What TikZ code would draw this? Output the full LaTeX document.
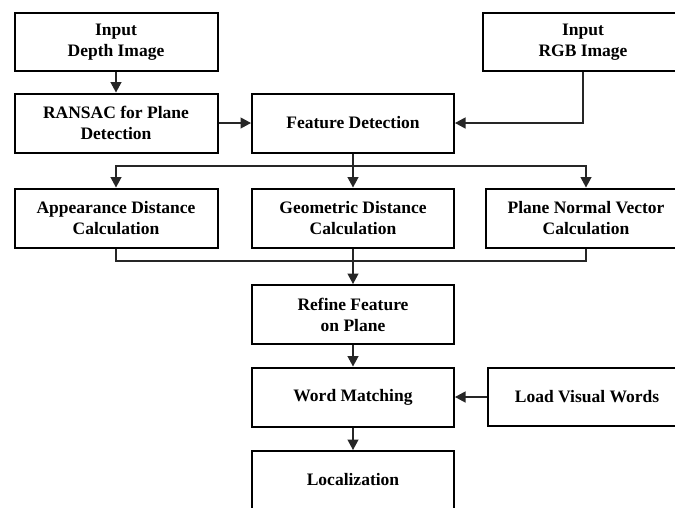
\documentclass[tikz,border=0pt]{standalone}
\usepackage{fontspec}
\setmainfont{Liberation Serif}
\usetikzlibrary{arrows.meta}
\begin{document}
\begin{tikzpicture}[x=1pt,y=-1pt,
  box/.style={draw=black,line width=2pt,fill=white,rectangle,inner sep=0pt,
    align=center,font=\bfseries\fontsize{17.5}{21}\selectfont},
  conn/.style={draw=black!85,line width=1.2pt},
  arr/.style={conn,-{Triangle[length=10.5pt,width=11pt]}}]
\useasboundingbox (0,0) rectangle (675,507);
\clip (0,0) rectangle (675,507);
\fill[white] (0,0) rectangle (675,507);
\node[box,minimum width=203pt,minimum height=58pt] (depth) at (116,42) {Input\\Depth Image};
\node[box,minimum width=200pt,minimum height=58pt] (rgb) at (583,42) {Input\\RGB Image};
\node[box,minimum width=203pt,minimum height=59pt] (ransac) at (116,123) {RANSAC for Plane\\Detection};
\node[box,minimum width=202pt,minimum height=59pt] (feat) at (353,123) {Feature Detection};
\node[box,minimum width=203pt,minimum height=59pt] (app) at (116,218) {Appearance Distance\\Calculation};
\node[box,minimum width=202pt,minimum height=59pt] (geo) at (353,218) {Geometric Distance\\Calculation};
\node[box,minimum width=200pt,minimum height=59pt] (pn) at (586,218) {Plane Normal Vector\\Calculation};
\node[box,minimum width=202pt,minimum height=59pt] (refine) at (353,314.5) {Refine Feature\\on Plane};
\node[box,minimum width=202pt,minimum height=59pt] (word) at (353,397) {Word Matching};
\node[box,minimum width=198pt,minimum height=58pt] (load) at (587,397) {Load Visual Words};
\node[box,minimum width=202pt,minimum height=58pt] (loc) at (353,480) {Localization};
\coordinate (b) at (353,166);
\coordinate (m) at (353,261);
\draw[arr] (depth.south) -- (ransac.north);
\draw[arr] (ransac.east) -- (feat.west);
\draw[arr] (rgb.south) |- (feat.east);
\draw[arr] (feat.south) -- (geo.north);
\draw[arr] (b) -| (app.north);
\draw[arr] (b) -| (pn.north);
\draw[conn] (app.south) |- (m);
\draw[conn] (pn.south) |- (m);
\draw[arr] (geo.south) -- (refine.north);
\draw[arr] (refine.south) -- (word.north);
\draw[arr] (load.west) -- (word.east);
\draw[arr] (word.south) -- (loc.north);
\end{tikzpicture}
\end{document}
